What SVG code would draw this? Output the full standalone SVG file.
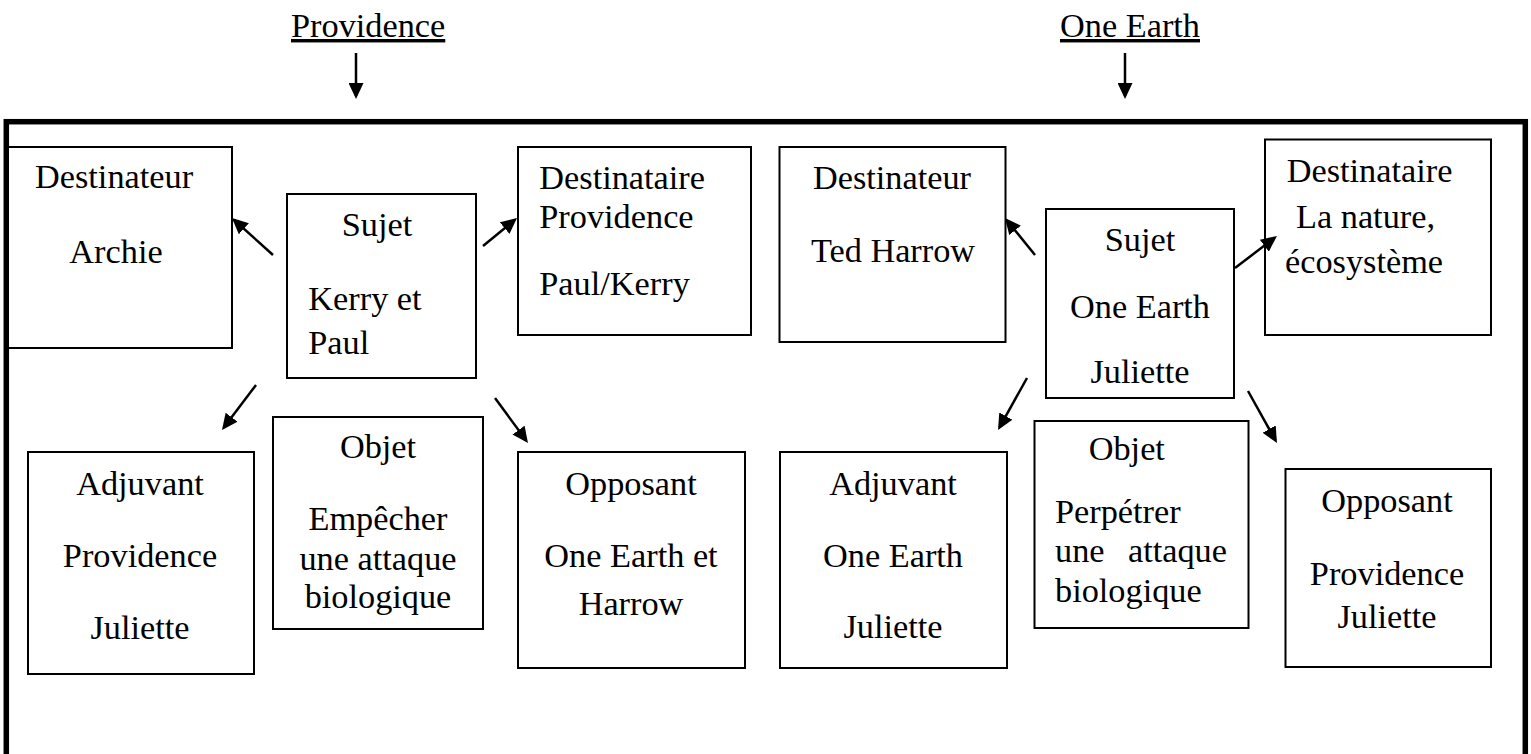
<svg xmlns="http://www.w3.org/2000/svg" width="1531" height="754" viewBox="0 0 1531 754">
<style>
  .bg { fill: #ffffff; }
  .frame { fill: none; stroke: #000; stroke-width: 5.5; }
  .box { fill: #ffffff; stroke: #000; stroke-width: 2; }
  .t { font-family: "Liberation Serif", "Times New Roman", serif; font-size: 34.3px; fill: #000; }
  .c { text-anchor: middle; }
  .e { text-anchor: end; }
  .u { text-decoration: underline; }
  .conn { fill: none; stroke: #000; stroke-width: 2.5; marker-end: url(#ah); }
</style>
<defs>
  <marker id="ah" markerUnits="userSpaceOnUse" markerWidth="16" markerHeight="15" refX="13" refY="7.5" orient="auto">
    <path d="M0,0 L16,7.5 L0,15 z" fill="#000"/>
  </marker>
</defs>
<rect class="bg" x="0" y="0" width="1531" height="754"/>

<g id="titles">
  <text class="t u" x="291" y="37">Providence</text>
  <text class="t u" x="1060" y="37">One Earth</text>
</g>

<rect id="frame" class="frame" x="6.3" y="121.7" width="1519" height="700"/>

<g id="destinateur-l">
  <rect class="box" x="8" y="147" width="224" height="201"/>
  <text class="t" x="35" y="188">Destinateur</text>
  <text class="t c" x="116" y="263">Archie</text>
</g>
<g id="sujet-l">
  <rect class="box" x="287" y="194" width="189" height="184"/>
  <text class="t c" x="377" y="236">Sujet</text>
  <text class="t" x="308.3" y="310">Kerry et</text>
  <text class="t" x="308.3" y="354">Paul</text>
</g>
<g id="destinataire-l">
  <rect class="box" x="518" y="147" width="233" height="188"/>
  <text class="t" x="539.3" y="189.3">Destinataire</text>
  <text class="t" x="539.3" y="228.3">Providence</text>
  <text class="t" x="539.3" y="295">Paul/Kerry</text>
</g>
<g id="destinateur-r">
  <rect class="box" x="779.5" y="147" width="226" height="195"/>
  <text class="t c" x="892" y="189.3">Destinateur</text>
  <text class="t c" x="893" y="261.7">Ted Harrow</text>
</g>
<g id="sujet-r">
  <rect class="box" x="1046" y="209" width="188" height="189"/>
  <text class="t c" x="1140" y="250.7">Sujet</text>
  <text class="t c" x="1140" y="318.3">One Earth</text>
  <text class="t c" x="1140" y="383.3">Juliette</text>
</g>
<g id="destinataire-r">
  <rect class="box" x="1265" y="139.5" width="226" height="195.5"/>
  <text class="t" x="1286.7" y="181.7">Destinataire</text>
  <text class="t" x="1296" y="228.3">La nature,</text>
  <text class="t" x="1285" y="273.3">écosystème</text>
</g>
<g id="adjuvant-l">
  <rect class="box" x="28" y="452" width="226" height="222"/>
  <text class="t c" x="140" y="495">Adjuvant</text>
  <text class="t c" x="140" y="567">Providence</text>
  <text class="t c" x="140" y="639">Juliette</text>
</g>
<g id="objet-l">
  <rect class="box" x="273" y="417" width="210" height="212"/>
  <text class="t c" x="378" y="458">Objet</text>
  <text class="t c" x="378" y="530">Empêcher</text>
  <text class="t c" x="378" y="570">une attaque</text>
  <text class="t c" x="378" y="608">biologique</text>
</g>
<g id="opposant-l">
  <rect class="box" x="518" y="452" width="227" height="216"/>
  <text class="t c" x="631" y="495">Opposant</text>
  <text class="t c" x="631" y="567">One Earth et</text>
  <text class="t c" x="631" y="615">Harrow</text>
</g>
<g id="adjuvant-r">
  <rect class="box" x="780" y="452" width="227" height="216"/>
  <text class="t c" x="893" y="495">Adjuvant</text>
  <text class="t c" x="893" y="567">One Earth</text>
  <text class="t c" x="893" y="638">Juliette</text>
</g>
<g id="objet-r">
  <rect class="box" x="1034.5" y="421" width="214" height="207"/>
  <text class="t" x="1088.7" y="460">Objet</text>
  <text class="t" x="1055" y="523">Perpétrer</text>
  <text class="t" x="1055" y="562">une</text>
  <text class="t e" x="1227" y="562">attaque</text>
  <text class="t" x="1055" y="602">biologique</text>
</g>
<g id="opposant-r">
  <rect class="box" x="1285.5" y="469" width="205.5" height="198"/>
  <text class="t c" x="1387" y="512">Opposant</text>
  <text class="t c" x="1387" y="585">Providence</text>
  <text class="t c" x="1387" y="628">Juliette</text>
</g>

<g id="connectors">
  <path class="conn" d="M356,53 L356,96"/>
  <path class="conn" d="M1125,53 L1125,96"/>
  <path class="conn" d="M273,255 L234.2,220"/>
  <path class="conn" d="M483,246 L514.7,219.9"/>
  <path class="conn" d="M256,385 L223.8,427.6"/>
  <path class="conn" d="M495,398 L526.2,440.6"/>
  <path class="conn" d="M1035,255 L1006.9,220.3"/>
  <path class="conn" d="M1235,268 L1274.6,237.8"/>
  <path class="conn" d="M1027,378 L999.5,427.4"/>
  <path class="conn" d="M1248,391 L1275.5,440.4"/>
</g>
</svg>
